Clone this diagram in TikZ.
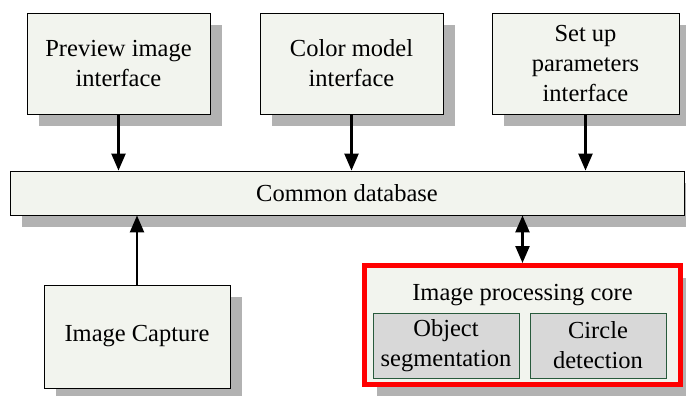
\documentclass[tikz,border=0pt]{standalone}
\usepackage{fontspec}
\setmainfont{Liberation Serif}
\usetikzlibrary{shadows,arrows.meta}
\definecolor{boxfill}{RGB}{242,244,238}
\definecolor{shadowgray}{RGB}{178,178,178}
\definecolor{subfill}{RGB}{216,216,216}
\definecolor{subline}{RGB}{40,90,60}
\tikzset{
  box/.style={draw,line width=0.9pt,fill=boxfill,align=center,inner sep=0pt,
    drop shadow={shadow xshift=12pt,shadow yshift=-12pt,fill=shadowgray,opacity=1}},
  subbox/.style={draw=subline,line width=0.8pt,fill=subfill,align=center,inner sep=0pt},
  arr/.style={line width=2.4pt,-{Triangle[length=17pt,width=14pt]}},
  darr/.style={line width=2.4pt,{Triangle[length=17pt,width=14pt]}-{Triangle[length=17pt,width=14pt]}}
}
\begin{document}
\begin{tikzpicture}[x=1pt,y=-1pt,font=\fontsize{24.5}{30}\selectfont]
  \useasboundingbox (0,0) rectangle (686,396);
  \node[box,minimum width=183pt,minimum height=101pt] (prev) at (118.5,63.5) {Preview image\\interface};
  \node[box,minimum width=183pt,minimum height=101pt] (col) at (351.5,63.5) {Color model\\interface};
  \node[box,minimum width=187pt,minimum height=101pt] (par) at (585.5,63.5) {Set up\\parameters\\interface};
  \node[box,minimum width=674pt,minimum height=44pt] (db) at (347,193) {Common database};
  \node[box,minimum width=186pt,minimum height=103pt] (cap) at (137,336.5) {Image Capture};
  \node[box,draw=red,line width=5pt,minimum width=316pt,minimum height=119pt] (core) at (522.5,325) {};
  \node (title) at (522.5,295) {Image processing core};
  \node[subbox,minimum width=146pt,minimum height=65pt] (obj) at (446,345.5) {Object\\segmentation};
  \node[subbox,minimum width=136pt,minimum height=65pt] (circ) at (598,345.5) {Circle\\detection};
  \draw[arr] (prev) -- (prev |- db.north);
  \draw[arr] (col) -- (col |- db.north);
  \draw[arr] (par) -- (par |- db.north);
  \draw[arr] (cap.north) -- (cap.north |- db.south);
  \draw[darr] (db.south -| core) -- (core.north);
\end{tikzpicture}
\end{document}
